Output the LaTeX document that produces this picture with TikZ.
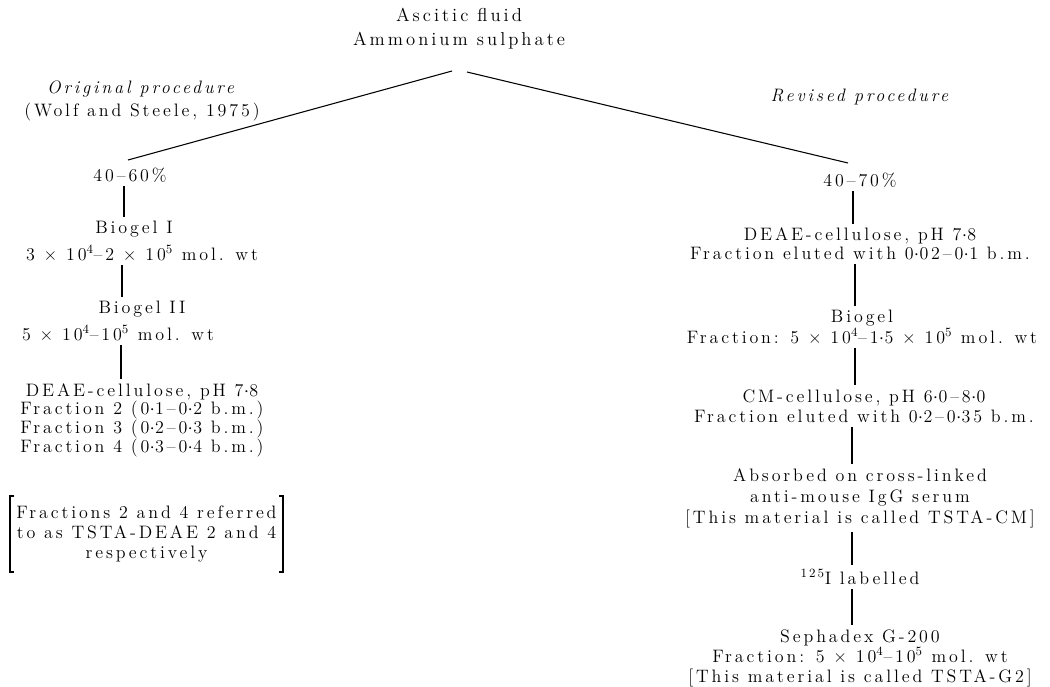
\documentclass[tikz,border=0pt]{standalone}
\usepackage{fontspec}
\setmainfont{Latin Modern Roman}[LetterSpace=16]
\usetikzlibrary{calc}
\newcommand{\md}{\kern0.2pt\mbox{$\cdot$}\kern0.2pt}
\newcommand{\tm}{ × }
\newcommand{\sps}[1]{\textsuperscript{#1}}
\begin{document}
\begin{tikzpicture}[x=0.75pt,y=-0.75pt,
  lbl/.style={inner sep=0pt, outer xsep=0pt, outer ysep=3pt, align=center, font=\fontsize{13.5}{13.5}\selectfont},
  conn/.style={line width=0.8pt}]
\useasboundingbox (0,0) rectangle (1050,686);
% top
\node[lbl, font=\fontsize{14}{18}\selectfont] (asc) at (459,29) {Ascitic fluid\\Ammonium sulphate};
\node[lbl, font=\fontsize{13.5}{17}\selectfont] (orig) at (142,101) {\textit{Original procedure}\\(Wolf and Steele, 1975)};
\node[lbl] (rev) at (861,97) {\textit{Revised procedure}};
% left column
\node[lbl] (p40l) at (130,175) {40--60\%};
\node[lbl] (b1a) at (134,229) {Biogel I};
\node[lbl] (b1b) at (142,253) {3\tm 10\sps{4}--2\tm 10\sps{5} mol. wt};
\node[lbl] (b2a) at (142,309) {Biogel II};
\node[lbl] (b2b) at (118,333) {5\tm 10\sps{4}--10\sps{5} mol. wt};
\node[lbl, font=\fontsize{13.5}{14}\selectfont] (deael) at (142,420) {DEAE-cellulose, pH 7\md 8\\Fraction 2 (0\md 1--0\md 2 b.m.)\\Fraction 3 (0\md 2--0\md 3 b.m.)\\Fraction 4 (0\md 3--0\md 4 b.m.)};
\node[lbl, font=\fontsize{13.5}{15}\selectfont, minimum width=204.75pt, minimum height=51pt] (brk) at (146.5,534) {Fractions 2 and 4 referred\\to as TSTA-DEAE 2 and 4\\respectively};
\draw[conn] ([xshift=3pt]brk.north west) -- (brk.north west) -- (brk.south west) -- ([xshift=3pt]brk.south west);
\draw[conn] ([xshift=-3pt]brk.north east) -- (brk.north east) -- (brk.south east) -- ([xshift=-3pt]brk.south east);
% right column
\node[lbl] (p40r) at (860,180) {40--70\%};
\node[lbl, font=\fontsize{13.5}{14}\selectfont] (deaer) at (860,244) {DEAE-cellulose, pH 7\md 8\\Fraction eluted with 0\md 02--0\md 1 b.m.};
\node[lbl] (bior) at (862,327) {Biogel\\Fraction: 5\tm 10\sps{4}--1\md 5\tm 10\sps{5} mol. wt};
\node[lbl, font=\fontsize{13.5}{15}\selectfont] (cm) at (864,406) {CM-cellulose, pH 6\md 0--8\md 0\\Fraction eluted with 0\md 2--0\md 35 b.m.};
\node[lbl, font=\fontsize{13.5}{15.75}\selectfont] (abs) at (860,498) {Absorbed on cross-linked\\anti-mouse IgG serum\\{[}This material is called TSTA-CM{]}};
\node[lbl] (i125) at (860,577) {\sps{125}I labelled};
\node[lbl, font=\fontsize{13.5}{15}\selectfont] (seph) at (860,658) {Sephadex G-200\\Fraction: 5\tm 10\sps{4}--10\sps{5} mol. wt\\{[}This material is called TSTA-G2{]}};
% connector end points
\coordinate (ascL) at (452,71);
\coordinate (ascR) at (467,72);
\coordinate (p40lT) at (128,160);
\coordinate (p40rT) at (848,163);
\coordinate (xl1) at (124,0);
\coordinate (xl2) at (122,0);
\coordinate (xl3) at (121,0);
\coordinate (xr1) at (853,0);
\coordinate (xr2) at (855,0);
\coordinate (xr3) at (852,0);
% connectors
\draw[conn] (ascL) -- (p40lT);
\draw[conn] (ascR) -- (p40rT);
\draw[conn] (p40l.south -| xl1) -- (b1a.north -| xl1);
\draw[conn] (b1b.south -| xl2) -- (b2a.north -| xl2);
\draw[conn] (b2b.south -| xl3) -- (deael.north -| xl3);
\draw[conn] (p40r.south -| xr1) -- (deaer.north -| xr1);
\draw[conn] (deaer.south -| xr2) -- (bior.north -| xr2);
\draw[conn] (bior.south -| xr2) -- (cm.north -| xr2);
\draw[conn] (cm.south -| xr3) -- (abs.north -| xr3);
\draw[conn] (abs.south -| xr3) -- (i125.north -| xr3);
\draw[conn] (i125.south -| xr3) -- (seph.north -| xr3);
\end{tikzpicture}
\end{document}
